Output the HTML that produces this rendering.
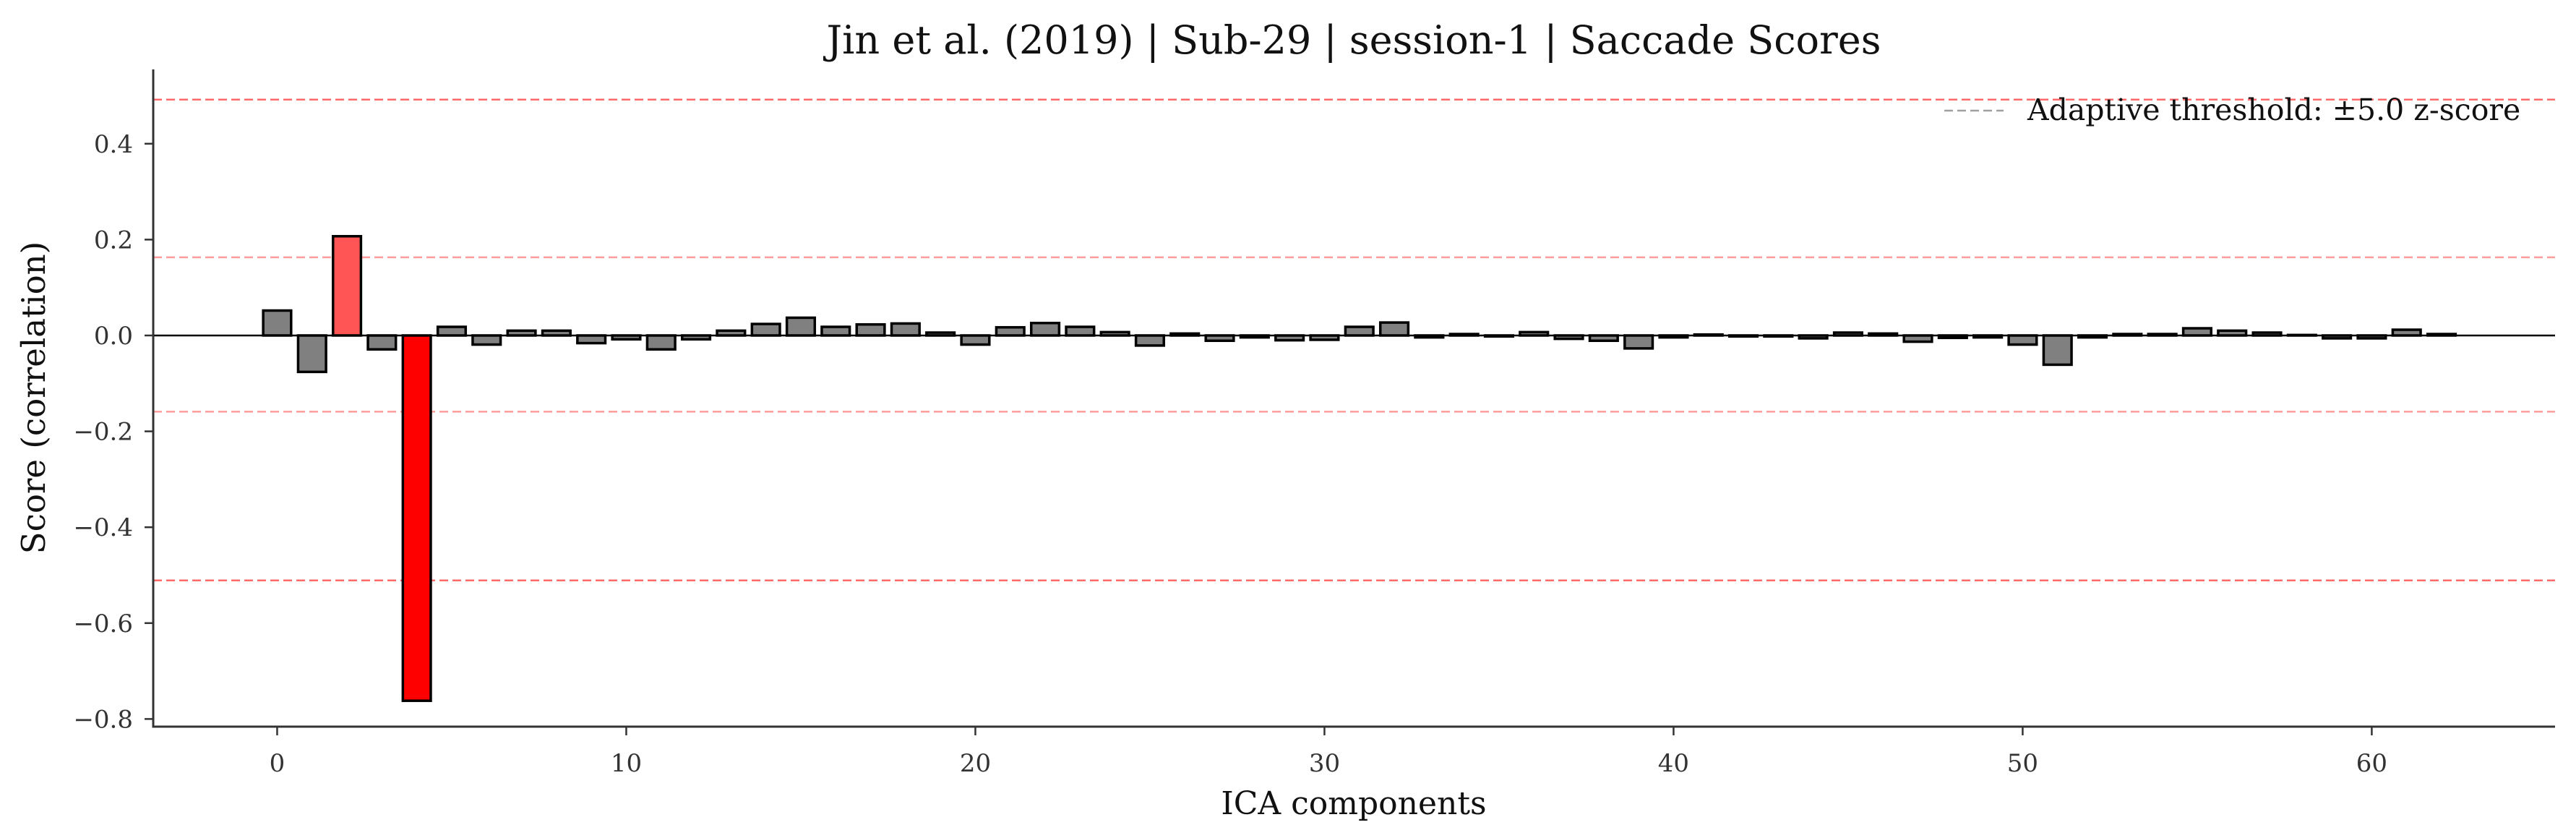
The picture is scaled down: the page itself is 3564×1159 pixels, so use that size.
<!DOCTYPE html>
<html><head><meta charset="utf-8"><style>
html,body{margin:0;padding:0;background:#fff;}
svg{display:block;font-family:"DejaVu Serif","Liberation Serif",serif;}
</style></head><body>
<svg id="chart" width="3564" height="1159" viewBox="0 0 3564 1159" xmlns="http://www.w3.org/2000/svg">
<rect width="3564" height="1159" fill="#fff"/>
<text x="1873" y="74" font-size="54" text-anchor="middle" fill="#111">Jin et al. (2019) | Sub-29 | session-1 | Saccade Scores</text>
<g id="thresholds"></g>
<g id="bars"></g>
<g id="axes"></g>
<text transform="translate(62,550) rotate(-90)" font-size="45" text-anchor="middle" fill="#111">Score (correlation)</text>
<text x="1873" y="1126" font-size="44" text-anchor="middle" fill="#111">ICA components</text>
<g>
<line x1="2690" y1="153" x2="2772" y2="153" stroke="#a0a0a0" stroke-width="2.5" stroke-dasharray="12,6"/>
<text x="2805" y="166" font-size="41" fill="#111">Adaptive threshold: ±5.0 z-score</text>
</g>
</svg>
<script>
const components = Array.from({length:63},(_,i)=>i);
const scores = [0.052,-0.076,0.207,-0.029,-0.762,0.018,-0.019,0.010,0.010,-0.016,-0.008,-0.029,-0.008,0.010,0.024,0.037,0.018,0.023,0.025,0.006,-0.019,0.017,0.026,0.018,0.007,-0.021,0.004,-0.011,-0.004,-0.010,-0.009,0.018,0.027,-0.004,0.003,-0.002,0.007,-0.007,-0.011,-0.027,-0.004,0.002,-0.002,-0.002,-0.006,0.006,0.004,-0.013,-0.005,-0.004,-0.019,-0.061,-0.004,0.003,0.003,0.015,0.010,0.006,0.001,-0.006,-0.006,0.012,0.003];
const barColors = {2:"#ff5555",4:"#ff0000"};
const thresholds = [0.492,0.163,-0.159,-0.511];
const thresholdColors = ["#ff6b6b","#ff9d9d","#ff9d9d","#ff6b6b"];
const xTicks = [0,10,20,30,40,50,60];
const yTicks = [-0.8,-0.6,-0.4,-0.2,0.0,0.2,0.4];

const L=212,R=3535,T=96,B=1005;
const xmin=-3.55,xmax=65.25,ymin=-0.816,ymax=0.555;
const X=v=>L+(v-xmin)/(xmax-xmin)*(R-L);
const Y=v=>B-(v-ymin)/(ymax-ymin)*(B-T);
const NS="http://www.w3.org/2000/svg";
function mk(tag,attrs,parent){const e=document.createElementNS(NS,tag);for(const k in attrs)e.setAttribute(k,attrs[k]);parent.appendChild(e);return e;}
const gT=document.getElementById('thresholds'),gB=document.getElementById('bars'),gA=document.getElementById('axes');

thresholds.forEach((t,i)=>{
  const l=mk('line',{x1:L,x2:R,y1:Y(t),y2:Y(t),stroke:thresholdColors[i],'stroke-width':2.5,'stroke-dasharray':'12,6'},gT);
  
  
});
const z=mk('line',{x1:L,x2:R,y1:Y(0),y2:Y(0),stroke:'#000','stroke-width':2.5},gT);



const bw=(X(0.8)-X(0));
components.forEach((c,i)=>{
  const v=scores[i];
  const y1=Y(Math.max(v,0)),y2=Y(Math.min(v,0));
  const r=mk('rect',{x:X(c)-bw/2,y:y1,width:bw,height:Math.max(y2-y1,0.5),fill:barColors[i]||'#808080',stroke:'#000','stroke-width':3.5},gB);
  
  
});

const ax=mk('path',{d:`M${L},${T} V${B} H${R}`,fill:'none',stroke:'#333','stroke-width':3},gA);


xTicks.forEach(t=>{
  mk('line',{x1:X(t),x2:X(t),y1:B,y2:B+12,stroke:'#333','stroke-width':2.5},gA);
  const tx=mk('text',{x:X(t),y:B+62,'font-size':34,'text-anchor':'middle',fill:'#333'},gA);
  tx.textContent=t;
  
  
});
yTicks.forEach(t=>{
  mk('line',{x1:L-12,x2:L,y1:Y(t),y2:Y(t),stroke:'#333','stroke-width':2.5},gA);
  const tx=mk('text',{x:L-28,y:Y(t)+12,'font-size':34,'text-anchor':'end',fill:'#333'},gA);
  tx.textContent=(t<0?'\u2212':'')+Math.abs(t).toFixed(1);
  
  
});
</script>
</body></html>
